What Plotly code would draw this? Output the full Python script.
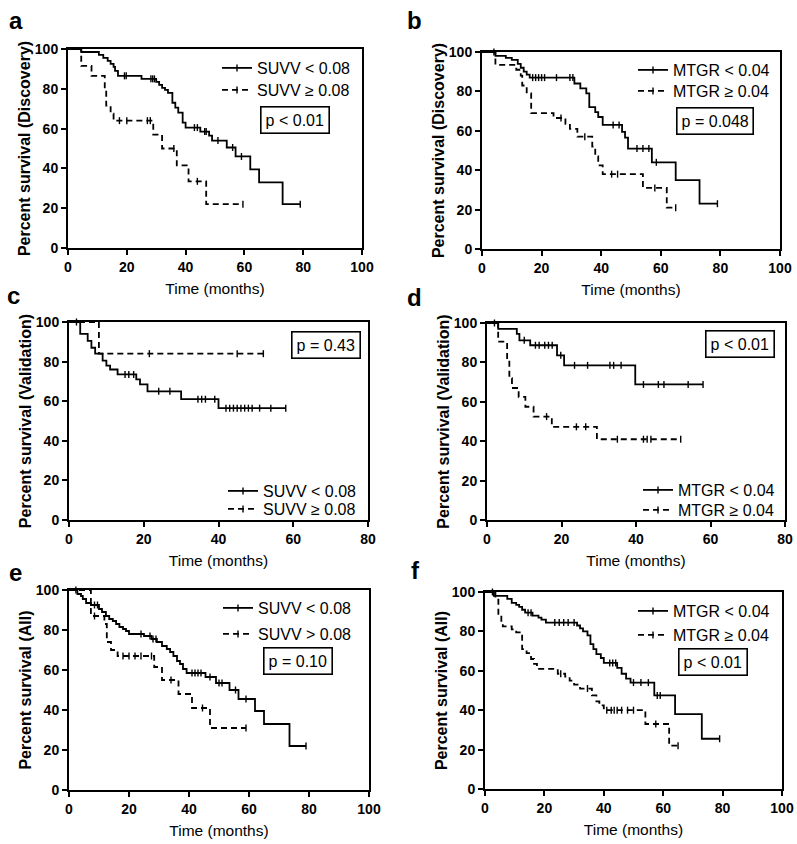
import plotly.graph_objects as go

W, H = 797, 844
FONT = "Liberation Sans, Arial, Helvetica, sans-serif"

# ---------------- data ----------------
# Panel a  (Discovery, SUVV)
A_LOW_T = [4.5, 10.5, 12, 13.5, 14.5, 15.5, 16, 17, 25, 30, 31, 32, 33, 34, 35.5, 36.5, 37.5, 39, 40, 45, 48, 49, 54, 57, 62, 65, 73]
A_LOW_S = [98.5, 97, 95.5, 94, 92.5, 91, 89, 86.5, 85, 83.5, 82, 80.5, 79.5, 78, 73, 70.5, 68, 63, 60.5, 58.5, 56.5, 54, 50.5, 46, 39.5, 33, 22]
A_LOW_C = [19.2, 19.8, 28.2, 28.8, 29.4, 43, 44, 46.5, 47, 51, 56, 59, 79]
A_HIGH_T = [4.5, 8, 12.5, 13, 14.5, 15.5, 29, 32, 37, 41, 47]
A_HIGH_S = [91.5, 86.5, 80, 71.5, 67.5, 64, 57, 50, 41.5, 33.5, 22]
A_HIGH_C = [17.5, 20, 27, 28, 36, 44, 59.5]

# Panel b  (Discovery, MTGR)
B_LOW_T = [4.5, 8, 10, 12, 13, 14, 15, 16, 31, 33, 35, 36, 38, 39, 40.5, 47, 48, 49, 57, 65, 73]
B_LOW_S = [98, 97, 96, 94, 92, 90, 88.5, 87, 84, 81.5, 79, 72, 69.5, 67, 63, 59.5, 56.5, 51, 44, 35, 23]
B_LOW_C = [4, 17, 18, 19, 20, 21, 25, 29.5, 30.5, 44, 46, 52, 54, 56, 58.5, 79]
B_HIGH_T = [4.5, 11.5, 13, 13.5, 15, 16.5, 24, 28, 29.5, 32, 37, 38, 39, 40.5, 54, 62]
B_HIGH_S = [93.5, 91, 88, 83, 79, 69, 66.5, 63.5, 61, 57, 52, 47, 42.5, 38, 31, 21]
B_HIGH_C = [26.5, 34.5, 43.5, 45.5, 58, 65]

# Panel c  (Validation, SUVV)
C_LOW_T = [3, 5, 6, 7, 9, 10, 11, 13, 18, 19, 21, 30, 40]
C_LOW_S = [94, 90.5, 87, 84, 80.5, 78, 76, 73.5, 71, 68.5, 65, 61, 56.5]
C_LOW_C = [2, 15, 16, 17.3, 24, 27, 34.5, 35.5, 36.5, 39, 42, 43, 44, 45, 46, 47, 48, 49, 51, 54, 58]
C_HIGH_T = [8]
C_HIGH_S = [84]
C_HIGH_C = [21.5, 45, 52]

# Panel d  (Validation, MTGR)
D_LOW_T = [3, 8, 8.7, 11.6, 18.8, 20.7, 39.8]
D_LOW_S = [97, 94.5, 91.2, 88.7, 83.6, 78.5, 68.8]
D_LOW_C = [2, 10, 13, 14, 15.5, 16.5, 17.5, 19.8, 23.5, 27, 33, 34, 36, 42, 46, 47.5, 54, 58]
D_HIGH_T = [3, 5.4, 6, 6.7, 8.5, 10.3, 12.5, 17.4, 29.5]
D_HIGH_S = [90.5, 81, 72, 67, 62.5, 57.5, 52.5, 47.3, 41]
D_HIGH_C = [16, 24, 26.5, 35, 42, 43, 44, 52]

# Panel e  (All, SUVV)
E_LOW_T = [2.8, 4, 4.6, 5.7, 7.3, 10, 11, 12.3, 13.4, 14.6, 15.7, 16.8, 18, 19, 20, 25, 27.5, 29.3, 31, 32.6, 33.7, 34.8, 36, 37, 38, 39.2, 45.5, 49, 53.5, 56.5, 62, 65, 73.5]
E_LOW_S = [98, 97, 95.5, 93.5, 92.5, 90.5, 89, 87, 85.5, 84.5, 83, 81.5, 80.5, 79.5, 78, 77, 75.5, 74, 72, 70.5, 69, 67, 64.5, 63, 60.5, 58.5, 56.5, 53.5, 50, 45.5, 39.5, 33, 22]
E_LOW_C = [2.3, 8.5, 9.5, 24, 27, 28, 29, 41, 42, 43, 44, 47, 50, 51, 55.5, 59, 79]
E_HIGH_T = [7.3, 11.8, 12.6, 14, 16.2, 28.4, 31, 36.5, 41, 47]
E_HIGH_S = [87, 83, 74, 70, 67, 61.5, 55, 48, 41, 31]
E_HIGH_C = [8.5, 18, 20, 22, 24, 27.5, 34, 44.5, 59]

# Panel f  (All, MTGR)
F_LOW_T = [3, 7.5, 9, 10.5, 11.5, 12.5, 13.5, 16, 18, 19, 20.5, 31, 32, 33, 34.5, 35.5, 36.5, 37.5, 39, 40, 44.5, 46, 47.5, 49, 57, 64, 73]
F_LOW_S = [98, 96.5, 94.5, 93.5, 92.5, 91, 89.5, 88, 87, 86, 84.5, 83, 81.5, 80, 78, 73.5, 71, 68.5, 66.5, 64, 61.5, 58.5, 56, 54, 47.5, 38, 25.5]
F_LOW_C = [2.5, 14.5, 15.5, 23.5, 25, 26.5, 28, 30, 42, 43, 44, 50, 52.5, 55, 58, 59, 79]
F_HIGH_T = [3.5, 4.5, 5.5, 6, 9, 10.5, 12.5, 14, 15.5, 16.5, 17.5, 24.5, 27, 28.5, 30, 32, 36, 37.5, 38.5, 40, 54, 62]
F_HIGH_S = [97, 88, 84.5, 82.5, 81, 79.5, 71, 69, 66, 63.5, 61, 58.5, 57, 55, 53, 51, 47.5, 44.5, 42.5, 40, 33, 22]
F_HIGH_C = [25.5, 34.5, 41, 42.5, 43.5, 44.5, 46, 48, 50, 57.5, 65]

PANEL_LABELS = ["a", "b", "c", "d", "e", "f"]
Y_TITLES = ["Percent survival (Discovery)", "Percent survival (Discovery)",
            "Percent survival (Validation)", "Percent survival (Validation)",
            "Percent survival (All)", "Percent survival (All)"]
X_TITLE = "Time (months)"
X_MAX = [100, 100, 80, 80, 100, 100]
LEGEND_NAMES = [("SUVV < 0.08", "SUVV ≥ 0.08"), ("MTGR < 0.04", "MTGR ≥ 0.04"),
                ("SUVV < 0.08", "SUVV ≥ 0.08"), ("MTGR < 0.04", "MTGR ≥ 0.04"),
                ("SUVV < 0.08", "SUVV > 0.08"), ("MTGR < 0.04", "MTGR ≥ 0.04")]
P_TEXT = ["p < 0.01", "p = 0.048", "p = 0.43", "p < 0.01", "p = 0.10", "p < 0.01"]

CURVES = [
    ((A_LOW_T, A_LOW_S, A_LOW_C), (A_HIGH_T, A_HIGH_S, A_HIGH_C)),
    ((B_LOW_T, B_LOW_S, B_LOW_C), (B_HIGH_T, B_HIGH_S, B_HIGH_C)),
    ((C_LOW_T, C_LOW_S, C_LOW_C), (C_HIGH_T, C_HIGH_S, C_HIGH_C)),
    ((D_LOW_T, D_LOW_S, D_LOW_C), (D_HIGH_T, D_HIGH_S, D_HIGH_C)),
    ((E_LOW_T, E_LOW_S, E_LOW_C), (E_HIGH_T, E_HIGH_S, E_HIGH_C)),
    ((F_LOW_T, F_LOW_S, F_LOW_C), (F_HIGH_T, F_HIGH_S, F_HIGH_C)),
]

# ---------------- layout geometry (window pixels) ----------------
BOXES = [(68, 362, 49, 248), (482, 780, 52, 249),
         (69, 368, 322, 520), (487, 785, 323, 520),
         (69, 369, 590, 790), (485, 782, 592, 789)]
LABEL_POS = [(7, 20), (405, 20), (5, 295), (405, 297), (7, 572), (409, 570)]
PBOX_POS = [(295, 120), (715, 121), (326, 345), (740, 344), (298, 661), (713, 662)]
# legend text start x, and the centre y of each of the two rows
LEGEND_TEXT_X = [257, 673, 263, 678, 258, 673]
LEGEND_ROWS = [(68, 90), (70, 91), (491, 509), (490, 510), (608, 634), (611, 635)]


def fx(px):
    return px / W


def fy(py):
    return 1 - py / H


def surv_at(t_ev, s_ev, c):
    v = 100.0
    for t, s in zip(t_ev, s_ev):
        if t <= c:
            v = s
    return v


def km_xy(t_ev, s_ev, cens):
    pts = [(0.0, 100.0)] + list(zip(t_ev, s_ev))
    end = max(list(t_ev) + list(cens))
    pts.append((end, surv_at(t_ev, s_ev, end)))
    pts.sort(key=lambda p: p[0])
    return [p[0] for p in pts], [p[1] for p in pts]


fig = go.Figure()
lw = 1.8
DASH = "6px,4px"
TICK_MARK = dict(symbol="line-ns", size=5, color="black", line=dict(width=1.4, color="black"))

layout = dict(width=W, height=H, margin=dict(l=0, r=0, t=0, b=0, autoexpand=False), paper_bgcolor="white",
              plot_bgcolor="white", font=dict(family=FONT, color="black"))

legend_n = 0
for i, (curves, names) in enumerate(zip(CURVES, LEGEND_NAMES)):
    xa = "x" if i == 0 else f"x{i+1}"
    ya = "y" if i == 0 else f"y{i+1}"
    for k, ((t_ev, s_ev, cens), name, dash) in enumerate(zip(curves, names, ["solid", DASH])):
        xs, ys = km_xy(t_ev, s_ev, cens)
        fig.add_trace(go.Scatter(x=xs, y=ys, mode="lines", line=dict(shape="hv", color="black", width=lw, dash=dash),
                                 xaxis=xa, yaxis=ya, showlegend=False, hoverinfo="skip"))
        fig.add_trace(go.Scatter(x=list(cens), y=[surv_at(t_ev, s_ev, c) for c in cens], mode="markers",
                                 marker=TICK_MARK, xaxis=xa, yaxis=ya, showlegend=False,
                                 cliponaxis=False, hoverinfo="skip"))
        legend_n += 1
        lg = "legend" if legend_n == 1 else f"legend{legend_n}"
        fig.add_trace(go.Scatter(x=[None], y=[None], mode="lines+markers", name=name,
                                 line=dict(color="black", width=lw, dash=dash), marker=TICK_MARK,
                                 xaxis=xa, yaxis=ya, legend=lg, showlegend=True))
        layout[lg] = dict(x=fx(LEGEND_TEXT_X[i] - 40), y=fy(LEGEND_ROWS[i][k] - 17),
                          xanchor="left", yanchor="top", bgcolor="rgba(0,0,0,0)",
                          font=dict(family=FONT, size=16, color="black"), borderwidth=0, itemclick=False)

annotations = []
for i in range(6):
    x0, x1, y0, y1 = BOXES[i]
    sfx = "" if i == 0 else str(i + 1)
    axis_common = dict(showline=True, linecolor="black", linewidth=2, mirror=True, ticks="outside",
                       ticklen=5, tickwidth=2, tickcolor="black", showgrid=False, zeroline=False,
                       automargin=False,
                       tickfont=dict(family=FONT, size=14, color="black", weight="bold"))
    layout["xaxis" + sfx] = dict(domain=[fx(x0), fx(x1)], range=[0, X_MAX[i]], dtick=20,
                                 anchor="y" + sfx,
                                 title=dict(text=X_TITLE, font=dict(family=FONT, size=15.5, weight="normal"),
                                            standoff=9),
                                 **axis_common)
    layout["yaxis" + sfx] = dict(domain=[fy(y1), fy(y0)], range=[0, 100], dtick=20,
                                 anchor="x" + sfx,
                                 title=dict(text=Y_TITLES[i], font=dict(family=FONT, size=16, weight="bold"),
                                            standoff=0),
                                 **axis_common)
    px, py = PBOX_POS[i]
    annotations.append(dict(x=fx(px), y=fy(py), xref="paper", yref="paper", text=P_TEXT[i],
                            showarrow=False, font=dict(family=FONT, size=16, color="black"),
                            bordercolor="black", borderwidth=1.6, borderpad=4, xanchor="center",
                            yanchor="middle", bgcolor="white"))
    lx2, ly2 = LABEL_POS[i]
    annotations.append(dict(x=fx(lx2), y=fy(ly2), xref="paper", yref="paper", text=PANEL_LABELS[i],
                            showarrow=False, font=dict(family=FONT, size=24, color="black", weight="bold"),
                            xanchor="left", yanchor="middle"))

layout["annotations"] = annotations
fig.update_layout(**layout)
# remove the browser's default 8px body margin so the figure fills the window exactly
fig.write_html("out.html", config={"displayModeBar": False},
               post_script="document.body.style.margin='0px';")
